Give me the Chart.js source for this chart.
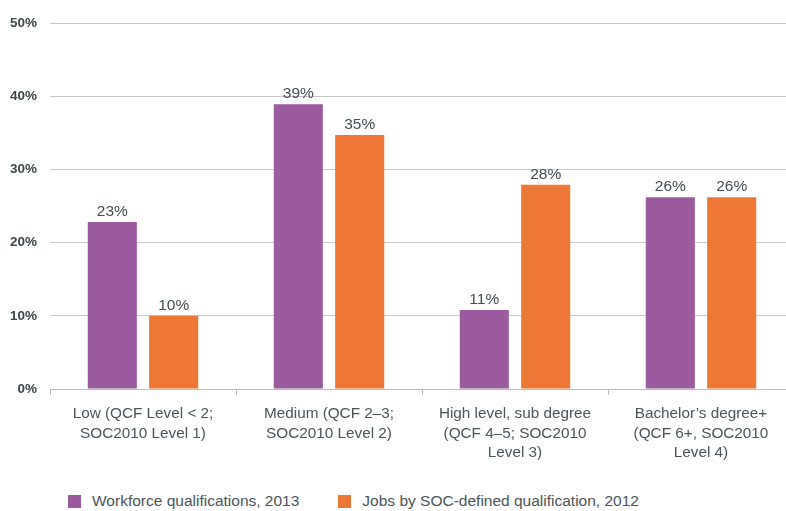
<!DOCTYPE html>
<html>
<head>
<meta charset="utf-8">
<script src="https://cdn.jsdelivr.net/npm/chart.js@4"></script>
<style>
  html, body { margin: 0; padding: 0; background: #fff; }
  body { width: 786px; height: 511px; overflow: hidden; position: relative; font-family: "Liberation Sans", Arial, sans-serif; }
  #wrap { position: absolute; left: 0; top: 0; width: 794px; height: 470px; }
  #legend { position: absolute; left: 68px; top: 492px; display: flex; align-items: center; font-size: 15.5px; color: #4a5558; }
  #legend .item { display: flex; align-items: center; margin-right: 39px; }
  #legend .box { width: 13px; height: 13px; margin-right: 11px; }
</style>
</head>
<body>
<div id="wrap"><canvas id="chart"></canvas></div>
<div id="legend"></div>
<script>
// dados
const categorias = [
    ['Low (QCF Level < 2;', 'SOC2010 Level 1)'],
    ['Medium (QCF 2\u20133;', 'SOC2010 Level 2)'],
    ['High level, sub degree', '(QCF 4\u20135; SOC2010', 'Level 3)'],
    ['Bachelor\u2019s degree+', '(QCF 6+, SOC2010', 'Level 4)']
];
const workforce2013 = [22.8, 38.9, 10.8, 26.2];
const jobs2012 = [10.0, 34.7, 27.9, 26.2];
const yTicks = [0, 10, 20, 30, 40, 50];

const corRoxo = '#9b5b9f';
const corLaranja = '#ed7836';

// rótulos de valor em cima das barras
const valueLabels = {
    id: 'valueLabels',
    afterDatasetsDraw(chart) {
        const ctx = chart.ctx;
        ctx.save();
        ctx.font = '15.5px "Liberation Sans", Arial, sans-serif';
        ctx.fillStyle = '#434d50';
        ctx.textAlign = 'center';
        ctx.textBaseline = 'alphabetic';
        chart.data.datasets.forEach((ds, i) => {
            chart.getDatasetMeta(i).data.forEach((bar, j) => {
                ctx.fillText(Math.round(ds.data[j]) + '%', bar.x, bar.y - 6);
            });
        });
        ctx.restore();
    }
};

const chart = new Chart(document.getElementById('chart'), {
    type: 'bar',
    data: {
        labels: categorias,
        datasets: [{
            label: 'Workforce qualifications, 2013',
            data: workforce2013,
            backgroundColor: corRoxo
        }, {
            label: 'Jobs by SOC-defined qualification, 2012',
            data: jobs2012,
            backgroundColor: corLaranja
        }]
    },
    options: {
        responsive: true,
        maintainAspectRatio: false,
        animation: false,
        layout: { padding: { top: 23, left: 0, right: 0, bottom: 0 } },
        categoryPercentage: 0.66,
        barPercentage: 0.8,
        plugins: {
            legend: { display: false },
            tooltip: { enabled: false }
        },
        scales: {
            y: {
                min: 0,
                max: 50,
                afterBuildTicks(s) { s.ticks = yTicks.map(v => ({ value: v })); },
                afterFit(s) { s.width = 50; },
                ticks: {
                    callback: v => v + '%',
                    font: { family: '"Liberation Sans", Arial, sans-serif', size: 13.5, weight: 'bold' },
                    color: '#3d474a',
                    padding: 13
                },
                grid: { color: '#c8c8c8', drawTicks: false },
                border: { display: false }
            },
            x: {
                afterFit(s) { s.height = 81; },
                ticks: {
                    font: { family: '"Liberation Sans", Arial, sans-serif', size: 15.3, lineHeight: 1.28 },
                    color: '#4a5558',
                    padding: 9,
                    maxRotation: 0,
                    autoSkip: false
                },
                grid: { drawOnChartArea: false, offset: true, tickLength: 6, color: '#b8b8b8' },
                border: { display: true, color: '#bdbdbd' }
            }
        }
    },
    plugins: [valueLabels]
});

// legenda em HTML
const legend = document.getElementById('legend');
chart.data.datasets.forEach(ds => {
    const item = document.createElement('div');
    item.className = 'item';
    const box = document.createElement('span');
    box.className = 'box';
    box.style.background = ds.backgroundColor;
    const txt = document.createElement('span');
    txt.textContent = ds.label;
    item.appendChild(box);
    item.appendChild(txt);
    legend.appendChild(item);
});
</script>
</body>
</html>
